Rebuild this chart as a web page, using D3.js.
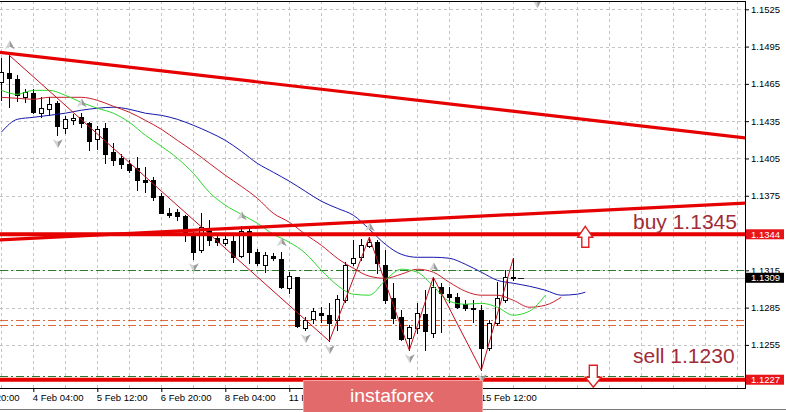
<!DOCTYPE html>
<html><head><meta charset="utf-8">
<script src="https://cdn.jsdelivr.net/npm/d3@7"></script>
<style>
html,body{margin:0;padding:0;background:#fff;}
svg{display:block;}
text{font-family:"Liberation Sans",Arial,sans-serif;}
</style></head><body>
<svg id="c" width="786" height="412"></svg>
<script>
// ---------------- DATA (EURUSD H4) ----------------
const open = [1.14663,1.14735,1.14687,1.14542,1.14574,1.14414,1.14446,1.14494,1.14293,1.14357,
  1.14381,1.14333,1.14204,1.14293,1.14100,1.14052,1.14003,1.13971,1.13875,1.13875,
  1.13746,1.13609,1.13617,1.13585,1.13448,1.13312,1.13481,1.13408,1.13368,1.13384,
  1.13263,1.13464,1.13296,1.13191,1.13263,1.13239,1.13006,1.13094,1.12684,1.12757,
  1.12805,1.12789,1.12749,1.12909,1.13207,1.13255,1.13344,1.13376,1.13191,1.12926,
  1.12773,1.12604,1.12684,1.12797,1.12644,1.13014,1.12958,1.12934,1.12877,1.12845,
  1.12829,1.12523,1.12725,1.12909,1.13094];
const high = [1.14856,1.14880,1.14719,1.14607,1.14607,1.14542,1.14542,1.14510,1.14389,1.14405,
  1.14414,1.14341,1.14309,1.14333,1.14172,1.14084,1.14036,1.14060,1.13979,1.13899,
  1.13770,1.13649,1.13641,1.13593,1.13456,1.13609,1.13553,1.13424,1.13432,1.13432,
  1.13505,1.13481,1.13320,1.13296,1.13288,1.13296,1.13135,1.13094,1.12773,1.12845,
  1.12853,1.12885,1.12950,1.13215,1.13392,1.13400,1.13416,1.13392,1.13312,1.13046,
  1.12829,1.12708,1.12885,1.12990,1.13094,1.13046,1.13014,1.12966,1.12909,1.12909,
  1.12869,1.12749,1.13054,1.13151,1.13247];
const low = [1.14518,1.14462,1.14510,1.14502,1.14414,1.14381,1.14397,1.14237,1.14253,1.14325,
  1.14301,1.14116,1.14124,1.14011,1.13995,1.13971,1.13939,1.13794,1.13778,1.13714,
  1.13609,1.13577,1.13553,1.13384,1.13239,1.13296,1.13352,1.13352,1.13352,1.13215,
  1.13255,1.13207,1.13191,1.13135,1.13231,1.13006,1.12966,1.12692,1.12668,1.12725,
  1.12733,1.12580,1.12668,1.12893,1.13191,1.13231,1.13336,1.13127,1.12885,1.12725,
  1.12588,1.12507,1.12644,1.12507,1.12612,1.12652,1.12893,1.12845,1.12829,1.12733,
  1.12346,1.12507,1.12708,1.12893,1.13070];
const close = [1.14743,1.14695,1.14558,1.14582,1.14422,1.14454,1.14486,1.14309,1.14365,1.14373,
  1.14333,1.14188,1.14285,1.14084,1.14036,1.14003,1.13955,1.13875,1.13863,1.13738,
  1.13609,1.13593,1.13585,1.13448,1.13296,1.13497,1.13392,1.13376,1.13400,1.13255,
  1.13464,1.13296,1.13207,1.13271,1.13247,1.13014,1.13103,1.12700,1.12749,1.12821,
  1.12789,1.12725,1.12918,1.13191,1.13247,1.13352,1.13376,1.13207,1.12909,1.12765,
  1.12596,1.12692,1.12805,1.12660,1.13014,1.12966,1.12934,1.12853,1.12845,1.12837,
  1.12523,1.12725,1.12926,1.13094,1.13090];

// Alligator lines: [bar, price]
const jaw = [[0,1.14261],[2,1.14365],[4,1.14381],[6,1.14397],[8,1.14414],[10,1.14438],[12,1.14454],[14,1.14462],
  [16,1.14446],[18,1.14414],[20,1.14397],[22,1.14365],[24,1.14317],[26,1.14261],[28,1.14196],[30,1.14108],
  [32,1.14011],[34,1.13939],[36,1.13867],[38,1.13786],[40,1.13706],[42,1.13649],[44,1.13593],[46,1.13481],
  [48,1.13360],[50,1.13279],[52,1.13255],[54,1.13255],[56,1.13247],[58,1.13199],[60,1.13135],[62,1.13070],
  [64,1.13046],[66,1.13022],[68,1.12990],[70,1.12950],[72,1.12958],[73,1.12974]];
const teeth = [[0,1.14542],[2,1.14534],[4,1.14526],[6,1.14542],[8,1.14542],[10,1.14542],[12,1.14518],[14,1.14470],
  [16,1.14422],[18,1.14357],[20,1.14285],[22,1.14196],[24,1.14108],[26,1.14011],[28,1.13915],[30,1.13826],
  [32,1.13730],[34,1.13609],[36,1.13537],[38,1.13440],[40,1.13352],[42,1.13247],[44,1.13167],[46,1.13103],
  [48,1.13086],[50,1.13119],[52,1.13159],[54,1.13135],[56,1.13054],[58,1.12982],[60,1.12950],[62,1.12950],
  [64,1.12909],[66,1.12853],[68,1.12869],[70,1.12934]];
const lips = [[0,1.14598],[2,1.14566],[4,1.14598],[6,1.14598],[8,1.14558],[10,1.14502],[12,1.14454],[14,1.14414],
  [16,1.14341],[18,1.14237],[20,1.14148],[22,1.14052],[24,1.13931],[26,1.13778],[28,1.13674],[30,1.13601],
  [32,1.13529],[34,1.13440],[36,1.13376],[38,1.13288],[40,1.13151],[42,1.13030],[44,1.12958],[46,1.12950],
  [48,1.13070],[50,1.13159],[52,1.13135],[54,1.13022],[56,1.12901],[58,1.12877],[60,1.12885],[62,1.12853],
  [64,1.12789],[66,1.12821],[68,1.12950]];

// ZigZag turning bars and whether each is a high (1) or low (0)
const zigBars = [1,41,46,51,54,60,64];
const zigIsHigh = [1,0,1,0,1,0,1];
// fractal-style arrows
const upMarkBars = [1,10,30,35,46,54];
const downMarkBars = [7,24,38,41,51,60];
const topMark = [[67,1.15298]];

// Levels
const buyLevel = 1.1344, sellLevel = 1.1227, bidPrice = 1.1309;
const greenLevels = [1.1315, 1.1230];
const orangeLevels = [1.12754, 1.12708];
const trendDown = [[-1,1.14910],[94,1.14208]];
const trendUp = [[-1,1.13393],[94,1.13694]];
const buyArrowBar = 73, sellArrowBar = 74;
const buyText = "buy 1.1345", sellText = "sell 1.1230";

// Axes (labels under the watermark are not visible in the original)
const priceTicks = [1.1525,1.1495,1.1465,1.1435,1.1405,1.1375,1.1345,1.1315,1.1285,1.1255];
const timeBars = [-4,4,12,20,28,36,60];
const timeLabels = ["1 Feb 20:00","4 Feb 04:00","5 Feb 12:00","6 Feb 20:00","8 Feb 04:00","11 Feb 12:00","15 Feb 12:00"];

// ---------------- DRAW ----------------
const svg = d3.select('#c');
const PR = 745, PT = 1, PB = 388;
const x = d3.scaleLinear().domain([0,93]).range([1.3,745.3]);
const y = d3.scaleLinear().domain([1.1525,1.1225]).range([9.3,382.2]);
const px = v => Math.round(x(v));
const py = v => Math.round(y(v));

svg.append('rect').attr('width',786).attr('height',412).attr('fill','#fff');
svg.append('clipPath').attr('id','clip').append('rect').attr('x',0).attr('y',PT).attr('width',PR).attr('height',PB-PT);
const g = svg.append('g').attr('clip-path','url(#clip)');

// grid
const gridBars = d3.range(0,93,4);
g.selectAll('.vg').data(gridBars).join('line')
  .attr('x1',d=>px(d)+0.5).attr('x2',d=>px(d)+0.5).attr('y1',PT).attr('y2',PB)
  .attr('stroke','#c4c4c4').attr('stroke-dasharray','3,3');
g.selectAll('.hg').data(priceTicks).join('line')
  .attr('x1',0).attr('x2',PR).attr('y1',d=>py(d)+0.5).attr('y2',d=>py(d)+0.5)
  .attr('stroke','#c4c4c4').attr('stroke-dasharray','3,3');

// level lines
g.selectAll('.gl').data(greenLevels).join('line')
  .attr('x1',0).attr('x2',PR).attr('y1',d=>py(d)+0.5).attr('y2',d=>py(d)+0.5)
  .attr('stroke','#2a7a2a').attr('stroke-dasharray','8,3,2,3');
g.selectAll('.ol').data(orangeLevels).join('line')
  .attr('x1',0).attr('x2',PR).attr('y1',d=>py(d)+0.5).attr('y2',d=>py(d)+0.5)
  .attr('stroke','#dc6a3a').attr('stroke-dasharray','8,3,2,3');
g.append('line').attr('x1',0).attr('x2',PR).attr('y1',py(bidPrice)+0.5).attr('y2',py(bidPrice)+0.5)
  .attr('stroke','#c0c0c0');

// candles
const bars = open.map((o,i)=>({i,o,h:high[i],l:low[i],c:close[i]}));
const cg = g.append('g');
cg.selectAll('.wick').data(bars).join('line')
  .attr('x1',d=>px(d.i)+0.5).attr('x2',d=>px(d.i)+0.5)
  .attr('y1',d=>py(d.h)).attr('y2',d=>py(d.l)+1)
  .attr('stroke','#000');
cg.selectAll('.body').data(bars).join('rect')
  .attr('x',d=>d.c>=d.o ? px(d.i)-1.5 : px(d.i)-2)
  .attr('width',d=>d.c>=d.o ? 4 : 5)
  .attr('y',d=>d.c>=d.o ? py(d.c)+0.5 : py(d.o))
  .attr('height',d=>{const hgt=Math.abs(py(d.c)-py(d.o)); return d.c>=d.o ? Math.max(hgt,1) : Math.max(hgt+1,1);})
  .attr('fill',d=>d.c>=d.o ? '#fff' : '#000')
  .attr('stroke',d=>d.c>=d.o ? '#000' : 'none');
// last price tick
g.append('line').attr('x1',px(64)+5).attr('x2',px(64)+11).attr('y1',py(close[64])+0.5).attr('y2',py(close[64])+0.5).attr('stroke','#222');

// alligator
const ln = d3.line().x(d=>x(d[0])).y(d=>y(d[1])).curve(d3.curveMonotoneX);
g.append('path').attr('d',ln(jaw)).attr('fill','none').attr('stroke','#1616a8').attr('stroke-width',1);
g.append('path').attr('d',ln(teeth)).attr('fill','none').attr('stroke','#c4202a').attr('stroke-width',1);
g.append('path').attr('d',ln(lips)).attr('fill','none').attr('stroke','#2ed42e').attr('stroke-width',1);

// zigzag
const zz = zigBars.map((b,i)=>[b, zigIsHigh[i] ? high[b] : low[b]]);
g.append('path').attr('d',d3.line().x(d=>x(d[0])).y(d=>y(d[1]))(zz))
  .attr('fill','none').attr('stroke','#c0101e').attr('stroke-width',1);

// thick red objects
const tl = d3.line().x(d=>x(d[0])).y(d=>y(d[1]));
g.append('path').attr('d',tl(trendDown)).attr('stroke','#e60000').attr('stroke-width',3.2).attr('fill','none');
g.append('path').attr('d',tl(trendUp)).attr('stroke','#e60000').attr('stroke-width',3.2).attr('fill','none');
[buyLevel, sellLevel].forEach(v=>{
  g.append('line').attr('x1',0).attr('x2',PR).attr('y1',y(v)).attr('y2',y(v))
    .attr('stroke','#e60000').attr('stroke-width',4);
});

// markers
function marker(cx, cy, up){
  const s = up ? 1 : -1;
  const mg = g.append('g').attr('transform',`translate(${cx},${cy})`);
  mg.append('path').attr('d',`M0,${-5*s} L-5,${4*s} L0,${1.5*s} Z`).attr('fill','#d2d2d2');
  mg.append('path').attr('d',`M0,${-5*s} L5,${4*s} L0,${1.5*s} Z`).attr('fill','#9a9a9a');
}
upMarkBars.forEach(b=>marker(x(b)+0.5, y(high[b])-10, true));
downMarkBars.forEach(b=>marker(x(b)+0.5, y(low[b])+8, false));
topMark.forEach(d=>marker(x(d[0]), y(d[1]), false));

// buy/sell arrows
const ax1 = x(buyArrowBar), ay1 = y(buyLevel);
g.append('path').attr('d',`M${ax1},${ay1-8} L${ax1+7.5},${ay1+3} L${ax1+3.5},${ay1+3} L${ax1+3.5},${ay1+13} L${ax1-3.5},${ay1+13} L${ax1-3.5},${ay1+3} L${ax1-7.5},${ay1+3} Z`)
  .attr('fill','#fff').attr('stroke','#e02020').attr('stroke-width',1.4);
const ax2 = x(sellArrowBar), ay2 = y(sellLevel);
g.append('path').attr('d',`M${ax2},${ay2+7.5} L${ax2+8},${ay2-2.5} L${ax2+4},${ay2-2.5} L${ax2+4},${ay2-14.5} L${ax2-4},${ay2-14.5} L${ax2-4},${ay2-2.5} L${ax2-8},${ay2-2.5} Z`)
  .attr('fill','#fff').attr('stroke','#e02020').attr('stroke-width',1.4);

// labels
svg.append('text').attr('x',633).attr('y',y(buyLevel)-5).attr('font-size',21).attr('fill','#a02c38').text(buyText);
svg.append('text').attr('x',633).attr('y',y(sellLevel)-16.5).attr('font-size',21).attr('fill','#a02c38').text(sellText);

// frame
svg.append('line').attr('x1',0).attr('x2',PR+0.5).attr('y1',1.5).attr('y2',1.5).attr('stroke','#000');
svg.append('line').attr('x1',PR+0.5).attr('x2',PR+0.5).attr('y1',1).attr('y2',PB+1).attr('stroke','#000');
svg.append('line').attr('x1',0).attr('x2',PR+1).attr('y1',PB+0.5).attr('y2',PB+0.5).attr('stroke','#000');

// right axis
const ra = svg.append('g').attr('transform',`translate(${PR},0)`)
  .call(d3.axisRight(y).tickValues(priceTicks).tickSize(4).tickPadding(2).tickFormat(d3.format('.4f')));
ra.select('.domain').remove();
ra.selectAll('text').attr('font-size',9.5).attr('font-family','"Liberation Sans",Arial,sans-serif').attr('fill','#000');
ra.selectAll('line').attr('stroke','#000');

function priceBox(v, fill){
  const cy = y(v);
  svg.append('rect').attr('x',PR+1).attr('y',cy-5).attr('width',38).attr('height',10).attr('fill',fill);
  svg.append('text').attr('x',PR+6).attr('y',cy+3.5).attr('font-size',9.5).attr('fill','#fff').text(d3.format('.4f')(v));
}
priceBox(buyLevel,'#e8141a');
priceBox(bidPrice,'#000');
priceBox(sellLevel,'#e8141a');

// bottom axis
const ba = svg.append('g').attr('transform',`translate(0,${PB})`)
  .call(d3.axisBottom(x).tickValues(timeBars).tickSize(4).tickFormat((d,i)=>timeLabels[i]));
ba.select('.domain').remove();
ba.selectAll('line').attr('stroke','#000');
ba.selectAll('text').attr('text-anchor','start').attr('dx',-1).attr('dy',0).attr('y',13)
  .attr('font-size',9.5).attr('font-family','"Liberation Sans",Arial,sans-serif').attr('fill','#000');

svg.append('line').attr('x1',0).attr('x2',786).attr('y1',409.5).attr('y2',409.5).attr('stroke','#7a7a7a');

// logo
svg.append('rect').attr('x',303.5).attr('y',380.5).attr('width',179).attr('height',32)
  .attr('fill','#e26a6a').attr('stroke','#f0a4a4').attr('stroke-width',1);
svg.append('text').attr('x',392).attr('y',402).attr('text-anchor','middle')
  .attr('font-family','"Open Sans",Lato,sans-serif').attr('font-size',19).attr('fill','#fff')
  .attr('textLength',84).attr('lengthAdjust','spacingAndGlyphs').text('instaforex');
</script>
</body></html>
